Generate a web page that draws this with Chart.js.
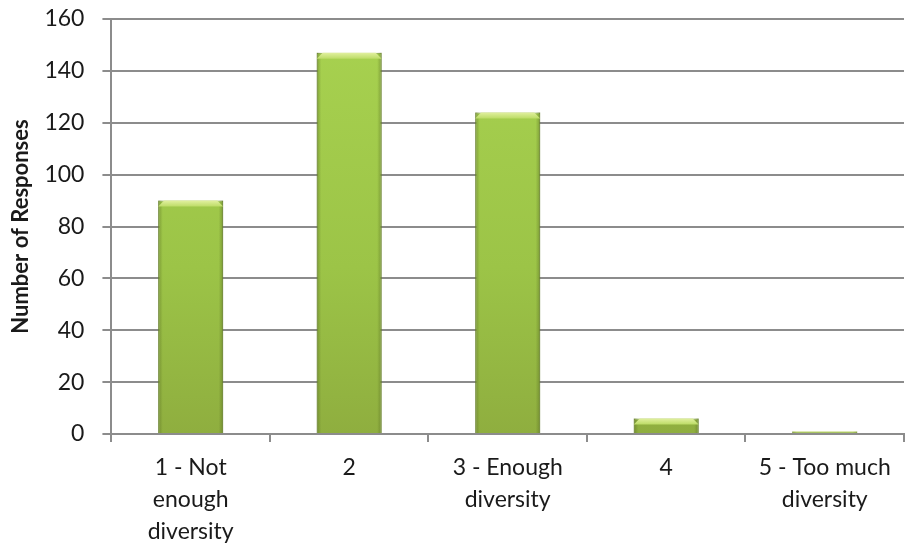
<!DOCTYPE html>
<html>
<head>
<meta charset="utf-8">
<script src="https://cdn.jsdelivr.net/npm/chart.js@4.4.1/dist/chart.umd.min.js"></script>
<style>
    html, body { margin: 0; padding: 0; background: #fff; }
    #wrap { width: 907px; height: 546px; }
</style>
</head>
<body>
<div id="wrap"><canvas id="chart" width="907" height="546"></canvas></div>
<script>
// survey responses per rating

const categories = [
    ["1 - Not", "enough", "diversity"],
    "2",
    ["3 - Enough", "diversity"],
    "4",
    ["5 - Too much", "diversity"]
];
const responses = [90, 147, 124, 6, 1];
const yTicks = [0, 20, 40, 60, 80, 100, 120, 140, 160];

function barFill(ctx) {
    let chart = ctx.chart;
    let area = chart.chartArea;
    if (!area) return "#9cc64b";
    let g = chart.ctx.createLinearGradient(0, area.top, 0, area.bottom);
    g.addColorStop(0, "#a8d250");
    g.addColorStop(0.6, "#9cc447");
    g.addColorStop(1, "#8fae3f");
    return g;
}

// side shading + light bevel on top of each bar, like the office style
const bevel = {
    id: "bevel",
    afterDatasetsDraw(chart) {
        let c = chart.ctx;
        let meta = chart.getDatasetMeta(0);
        c.save();
        meta.data.forEach(function (bar) {
            let h = bar.base - bar.y;
            if (h <= 0) return;
            let x0 = bar.x - bar.width / 2;
            let w = bar.width;
            // darker edges left and right
            let s = c.createLinearGradient(x0, 0, x0 + w, 0);
            s.addColorStop(0, "rgba(80,100,30,0.45)");
            s.addColorStop(0.07, "rgba(80,100,30,0.0)");
            s.addColorStop(0.93, "rgba(80,100,30,0.0)");
            s.addColorStop(1, "rgba(80,100,30,0.45)");
            c.fillStyle = s;
            c.fillRect(x0, bar.y, w, h);
            // top bevel
            let bh = Math.min(6, h * 0.6);
            let g = c.createLinearGradient(0, bar.y, 0, bar.y + bh);
            g.addColorStop(0, "#e2f0a0");
            g.addColorStop(1, "#bcdc66");
            c.fillStyle = g;
            c.beginPath();
            c.moveTo(x0, bar.y + bh);
            c.lineTo(x0 + bh, bar.y);
            c.lineTo(x0 + w - bh, bar.y);
            c.lineTo(x0 + w, bar.y + bh);
            c.closePath();
            c.fill();
        });
        c.restore();
    }
};

new Chart(document.getElementById("chart"), {
    type: "bar",
    data: {
        labels: categories,
        datasets: [{
            data: responses,
            backgroundColor: barFill,
            borderColor: "#7c9a38",
            borderWidth: 1,
            barPercentage: 0.41,
            categoryPercentage: 1.0
        }]
    },
    plugins: [bevel],
    options: {
        responsive: false,
        animation: false,
        layout: { padding: { top: 7, right: 3, left: 8, bottom: 0 } },
        plugins: {
            legend: { display: false },
            tooltip: { enabled: false }
        },
        scales: {
            x: {
                offset: true,
                afterFit: function (axis) { axis.height = 112; },
                grid: {
                    offset: true,
                    drawOnChartArea: false,
                    color: "#8c8c8c",
                    lineWidth: 2,
                    tickLength: 8
                },
                border: { color: "#8c8c8c", width: 2 },
                ticks: {
                    color: "#1a1a1a",
                    font: { family: "Lato", size: 23, lineHeight: 1.39 },
                    maxRotation: 0,
                    autoSkip: false,
                    padding: 10
                }
            },
            y: {
                min: 0,
                max: 160,
                afterBuildTicks: function (axis) {
                    axis.ticks = yTicks.map(function (v) { return { value: v }; });
                },
                afterFit: function (axis) { axis.paddingTop = 19; },
                grid: {
                    color: "#8c8c8c",
                    lineWidth: 2,
                    tickLength: 9
                },
                border: { color: "#8c8c8c", width: 2 },
                ticks: {
                    color: "#1a1a1a",
                    font: { family: "Lato", size: 23 },
                    padding: 18
                },
                title: {
                    display: true,
                    text: "Number of Responses",
                    color: "#1a1a1a",
                    font: { family: "Lato", size: 22, weight: "bold" },
                    padding: { top: 0, bottom: -8 }
                }
            }
        }
    }
});
</script>
</body>
</html>
